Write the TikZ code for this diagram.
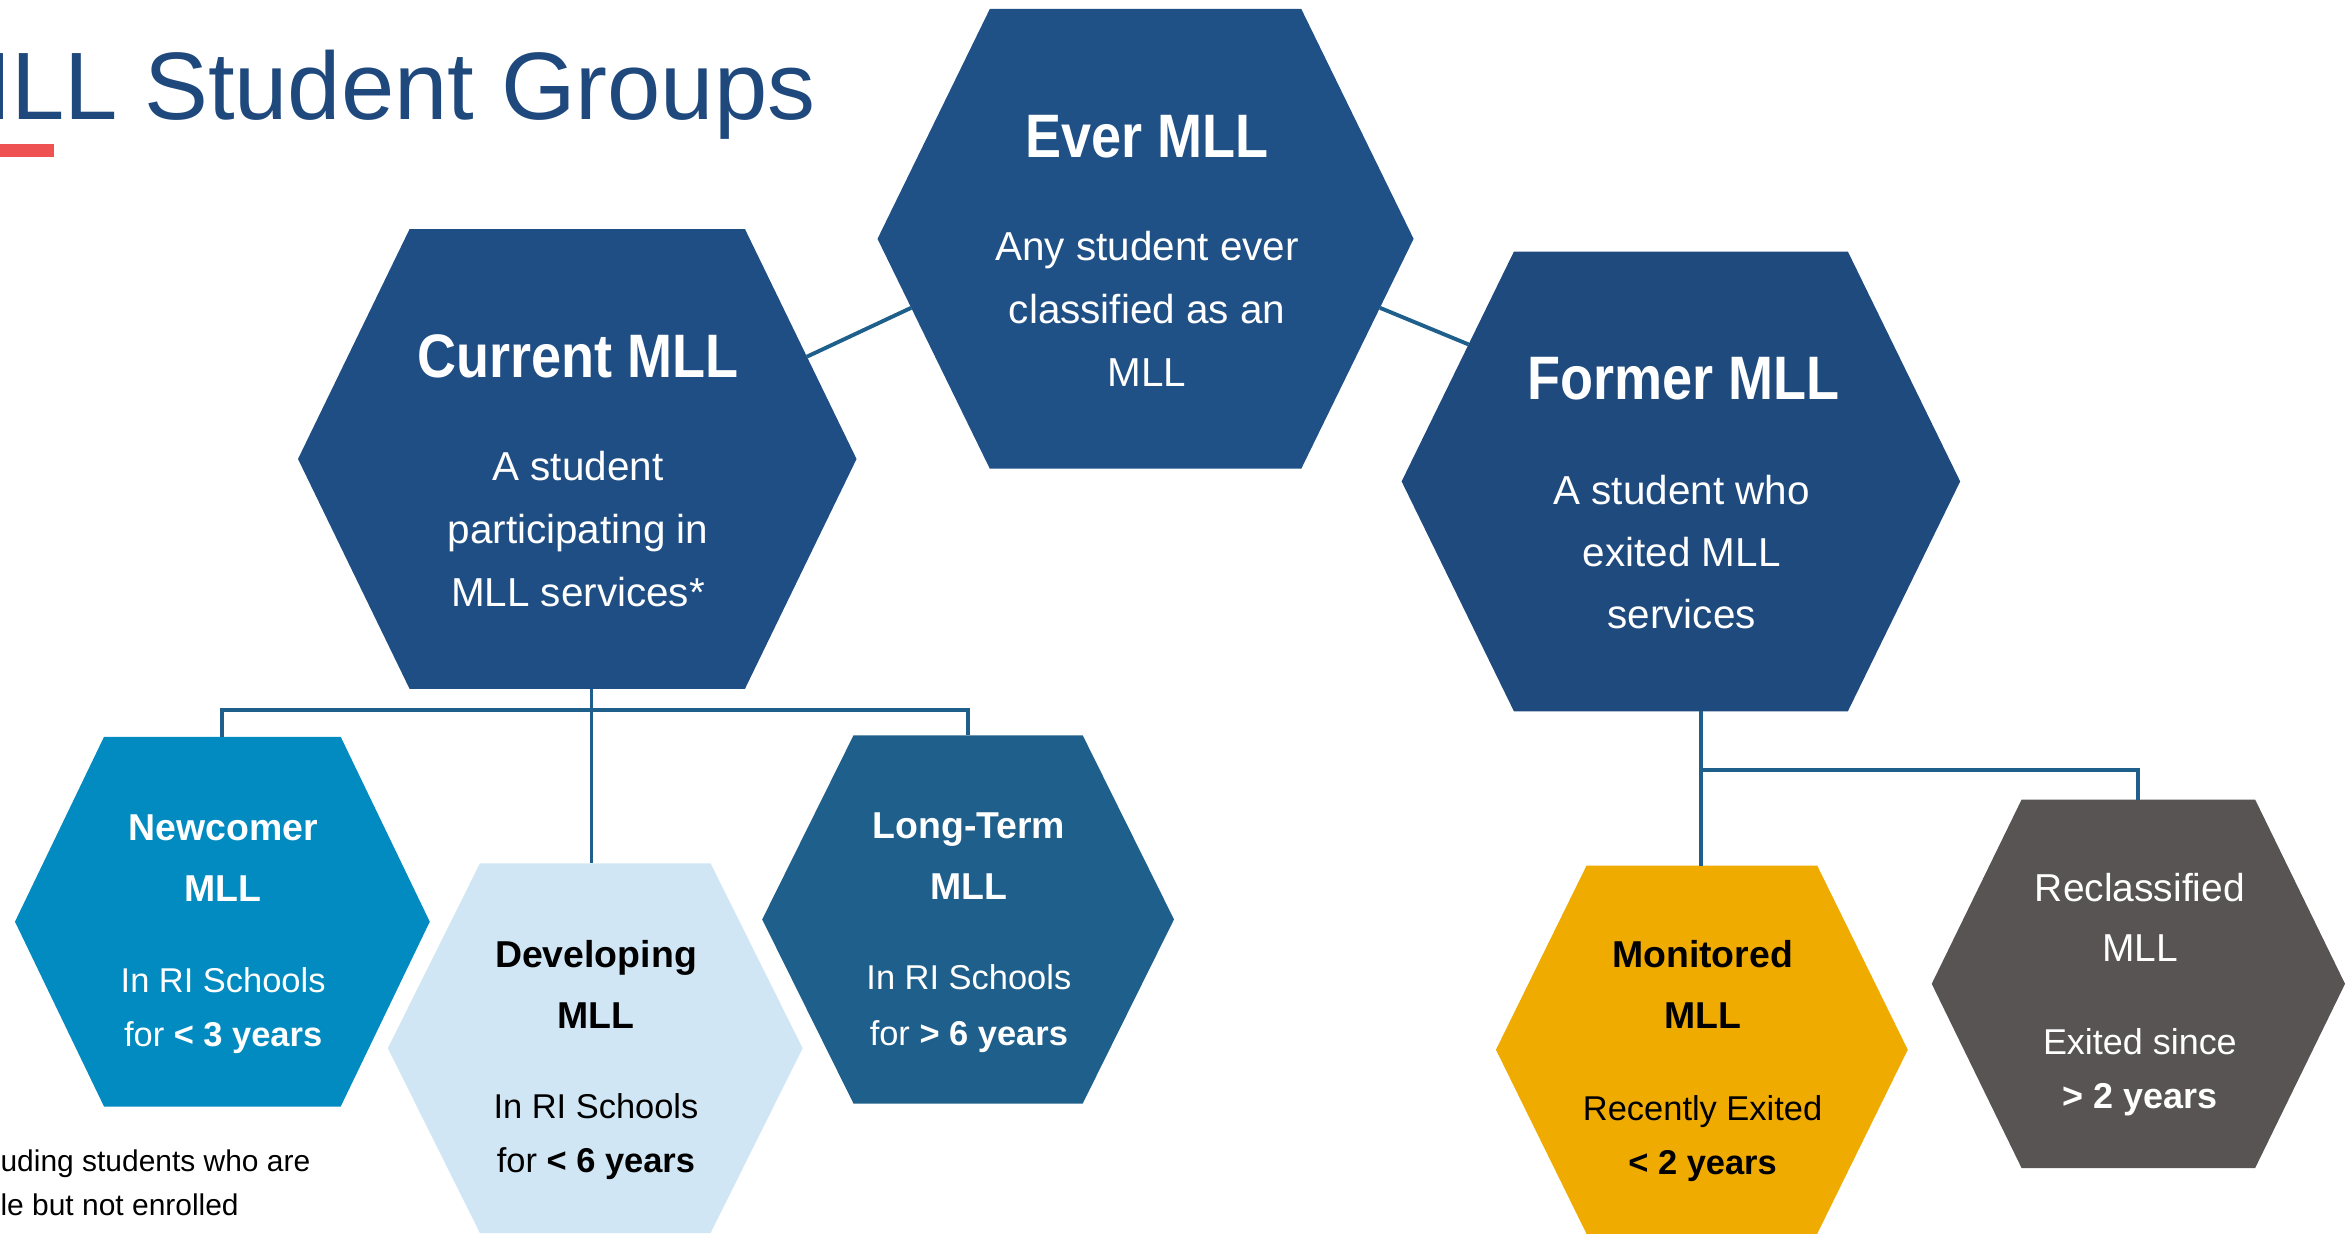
\documentclass[tikz,border=0pt]{standalone}
\usepackage{fontspec}
\setmainfont{Liberation Sans}
\newfontfamily\hdfont[FakeStretch=0.88]{Liberation Sans}
\usetikzlibrary{calc}
\definecolor{everc}{HTML}{1F5086}
\definecolor{curc}{HTML}{1F4E84}
\definecolor{fmrc}{HTML}{1F4A7E}
\definecolor{newc}{HTML}{028BC0}
\definecolor{devc}{HTML}{D1E6F4}
\definecolor{ltc}{HTML}{1F5F8B}
\definecolor{monc}{HTML}{F0AB00}
\definecolor{recc}{HTML}{575453}
\definecolor{connc}{HTML}{1F5F8B}
\definecolor{titlec}{HTML}{1F497D}
\definecolor{redc}{HTML}{EE5253}
\newcommand\hexshape[7]{%
  \path[fill=#7] (#2-#4,#3) coordinate (#1-l) -- (#2-#5,#3-#6) coordinate (#1-tl)
    -- (#2+#5,#3-#6) coordinate (#1-tr) -- (#2+#4,#3) coordinate (#1-r)
    -- (#2+#5,#3+#6) coordinate (#1-br) -- (#2-#5,#3+#6) coordinate (#1-bl) -- cycle;
  \coordinate (#1-c) at (#2,#3);}
\newcommand\bigtitle{\hdfont\bfseries\fontsize{20.5}{24}\selectfont}
\newcommand\bigdesc{\fontsize{13.5}{21}\selectfont}
\newcommand\smtitle{\bfseries\fontsize{12.5}{15}\selectfont}
\newcommand\smdesc{\fontsize{11.5}{14}\selectfont}
\newcommand\rctitle{\fontsize{13}{15}\selectfont}
\newcommand\rcdesc{\fontsize{12}{14}\selectfont}
\begin{document}
\begin{tikzpicture}[x=0.5pt,y=-0.5pt,
  conn/.style={draw=connc, line width=1.3pt},
  txt/.style={inner sep=0pt, anchor=base, align=center}]
\useasboundingbox (0,0) rectangle (1568,824);
\clip (0,0) rectangle (1568,824);
% title
\node[anchor=base east, inner sep=0pt, font=\fontsize{32}{38}\selectfont, text=titlec] (title) at (545,80) {MLL Student Groups};
\fill[redc] (0,96) rectangle (36,105);
% hexagons
\hexshape{ever}{765}{159.5}{179}{104}{153.5}{everc}
\hexshape{cur}{385.5}{306.5}{186.5}{112}{153.5}{curc}
\hexshape{fmr}{1122.5}{321.5}{186.5}{111.5}{153.5}{fmrc}
\hexshape{new}{148.5}{615.5}{138.5}{79}{123.5}{newc}
\hexshape{dev}{397.5}{700}{138.5}{77}{123.5}{devc}
\hexshape{lt}{646.5}{614}{137.5}{76.5}{123}{ltc}
\hexshape{mon}{1136.5}{701}{137.5}{77}{123}{monc}
\hexshape{rec}{1428}{657}{138}{78}{123}{recc}
% connectors
\coordinate (j1) at (395,474);
\coordinate (j2) at (1136,514);
\draw[conn] ($(cur-tr)!0.555!(cur-r)$) -- ($(ever-l)!0.30!(ever-bl)$);
\draw[conn] ($(ever-r)!0.30!(ever-br)$) -- ($(fmr-tl)!0.404!(fmr-l)$);
\draw[conn] (cur-bl -| j1) -- (dev-tl -| j1);
\draw[conn] (new-c |- new-tl) |- (j1) -| (lt-c |- lt-tl);
\draw[conn] (fmr-bl -| j2) -- (mon-tl -| j2);
\draw[conn] (j2) -| (rec-c |- rec-tl);
% Ever MLL
\node[txt, text=white, font=\bigtitle] (ever-t) at (766,105) {Ever MLL};
\node[txt, text=white, font=\bigdesc] (ever-d1) at (766,174) {Any student ever};
\node[txt, text=white, font=\bigdesc] (ever-d2) at (766,216) {classified as an};
\node[txt, text=white, font=\bigdesc] (ever-d3) at (766,258) {MLL};
% Current MLL
\node[txt, text=white, font=\bigtitle] (cur-t) at (386,252) {Current MLL};
\node[txt, text=white, font=\bigdesc] (cur-d1) at (386,321) {A student};
\node[txt, text=white, font=\bigdesc] (cur-d2) at (386,363) {participating in};
\node[txt, text=white, font=\bigdesc] (cur-d3) at (386,405) {MLL services*};
% Former MLL
\node[txt, text=white, font=\bigtitle] (fmr-t) at (1124,267) {Former MLL};
\node[txt, text=white, font=\bigdesc] (fmr-d1) at (1123,337) {A student who};
\node[txt, text=white, font=\bigdesc] (fmr-d2) at (1123,378) {exited MLL};
\node[txt, text=white, font=\bigdesc] (fmr-d3) at (1123,420) {services};
% Newcomer
\node[txt, text=white, font=\smtitle] (new-t1) at (149,561) {Newcomer};
\node[txt, text=white, font=\smtitle] (new-t2) at (149,602) {MLL};
\node[txt, text=white, font=\smdesc] (new-d1) at (149,663) {In RI Schools};
\node[txt, text=white, font=\smdesc] (new-d2) at (149,699) {for \textbf{< 3 years}};
% Developing
\node[txt, text=black, font=\smtitle] (dev-t1) at (398,646) {Developing};
\node[txt, text=black, font=\smtitle] (dev-t2) at (398,687) {MLL};
\node[txt, text=black, font=\smdesc] (dev-d1) at (398,747) {In RI Schools};
\node[txt, text=black, font=\smdesc] (dev-d2) at (398,783) {for \textbf{< 6 years}};
% Long-Term
\node[txt, text=white, font=\smtitle] (lt-t1) at (647,560) {Long-Term};
\node[txt, text=white, font=\smtitle] (lt-t2) at (647,601) {MLL};
\node[txt, text=white, font=\smdesc] (lt-d1) at (647,661) {In RI Schools};
\node[txt, text=white, font=\smdesc] (lt-d2) at (647,698) {for \textbf{> 6 years}};
% Monitored
\node[txt, text=black, font=\smtitle] (mon-t1) at (1137,646) {Monitored};
\node[txt, text=black, font=\smtitle] (mon-t2) at (1137,687) {MLL};
\node[txt, text=black, font=\smdesc] (mon-d1) at (1137,748) {Recently Exited};
\node[txt, text=black, font=\smdesc] (mon-d2) at (1137,784) {\textbf{< 2 years}};
% Reclassified
\node[txt, text=white, font=\rctitle] (rec-t1) at (1429,602) {Reclassified};
\node[txt, text=white, font=\rctitle] (rec-t2) at (1429,642) {MLL};
\node[txt, text=white, font=\rcdesc] (rec-d1) at (1429,704) {Exited since};
\node[txt, text=white, font=\rcdesc] (rec-d2) at (1429,740) {\textbf{> 2 years}};
% footnote
\node[anchor=base west, inner sep=0pt, font=\fontsize{10}{12}\selectfont] (fn1) at (0,782) {uding students who are};
\node[anchor=base west, inner sep=0pt, font=\fontsize{10}{12}\selectfont] (fn2) at (0,812) {le but not enrolled};
\end{tikzpicture}
\end{document}
